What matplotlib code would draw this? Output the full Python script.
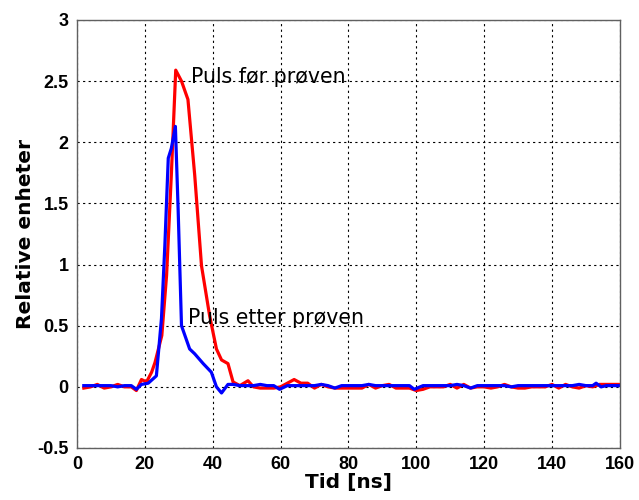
import matplotlib
matplotlib.use('Agg')
import matplotlib.pyplot as plt

# Pulse before the sample (red)
t_red = [2, 4, 6, 8, 10, 12, 14, 16, 17.5, 19, 20.5, 22, 23, 25, 26.4, 27.8, 29.1, 30.8,
         32.7, 34.7, 36.7, 39.1, 41.1, 42.6, 44.5, 46, 48, 50.4, 52, 54, 56, 58, 60, 62,
         64, 66, 68, 70, 72, 74, 76, 78, 80, 82, 84, 86, 88, 90, 92, 94, 96, 98, 100,
         102, 104, 106, 108, 110, 112, 114, 116, 118, 120, 122, 124, 126, 128, 130, 132,
         134, 136, 138, 140, 142, 144, 146, 148, 150, 152, 154, 156, 158, 160]
v_red = [-0.01, 0.0, 0.02, -0.01, 0.0, 0.02, 0.0, 0.0, -0.03, 0.06, 0.04, 0.12, 0.2, 0.42,
         0.91, 1.73, 2.59, 2.5, 2.35, 1.73, 0.99, 0.58, 0.31, 0.22, 0.19, 0.04, 0.01, 0.05,
         0.0, -0.01, -0.01, -0.01, 0.0, 0.03, 0.06, 0.03, 0.03, -0.01, 0.02, 0.0, -0.01,
         -0.01, -0.01, -0.01, -0.01, 0.02, -0.01, 0.01, 0.02, -0.01, -0.01, -0.01, -0.03,
         -0.02, 0.0, 0.0, 0.0, 0.02, -0.01, 0.02, -0.01, 0.0, 0.0, -0.01, 0.0, 0.02, 0.0,
         -0.01, -0.01, 0.0, 0.0, 0.0, 0.02, -0.01, 0.02, 0.0, -0.01, 0.01, 0.0, 0.02, 0.02,
         0.02, 0.02]

# Pulse after the sample (blue)
t_blue = [2, 4, 6, 8, 10, 12, 14, 16, 17.5, 19, 21, 23.4, 24.9, 25.9, 26.9, 27.8, 29.0,
          29.8, 30.8, 33.2, 34.7, 37.2, 39.6, 41.1, 42.6, 44.5, 46, 48, 50, 52, 54, 56,
          58, 59.7, 62, 64, 66, 68, 70, 72, 74, 76, 78, 80, 82, 84, 86, 88, 90, 92, 94,
          96, 98, 99.4, 102, 104, 106, 108, 110, 112, 114, 116, 118, 120, 122, 124, 126,
          128, 130, 132, 134, 136, 138, 140, 142, 144, 146, 148, 150, 152, 153, 154.5,
          156, 158, 160]
v_blue = [0.01, 0.01, 0.01, 0.01, 0.01, 0.0, 0.01, 0.01, -0.02, 0.02, 0.03, 0.09, 0.56,
          1.16, 1.87, 1.95, 2.13, 1.46, 0.5, 0.31, 0.27, 0.19, 0.12, 0.0, -0.05, 0.02,
          0.02, 0.01, 0.01, 0.01, 0.02, 0.01, 0.01, -0.02, 0.01, 0.01, 0.01, 0.01, 0.01,
          0.02, 0.01, -0.01, 0.01, 0.01, 0.01, 0.01, 0.02, 0.01, 0.01, 0.01, 0.01, 0.01,
          0.01, -0.02, 0.01, 0.01, 0.01, 0.01, 0.01, 0.02, 0.01, -0.01, 0.01, 0.01, 0.01,
          0.01, 0.01, 0.0, 0.01, 0.01, 0.01, 0.01, 0.01, 0.01, 0.01, 0.01, 0.01, 0.02,
          0.01, 0.01, 0.03, 0.0, 0.01, 0.01, 0.01]

xticks = [0, 20, 40, 60, 80, 100, 120, 140, 160]
yticks = [-0.5, 0, 0.5, 1, 1.5, 2, 2.5, 3]
ytick_labels = ['-0.5', '0', '0.5', '1', '1.5', '2', '2.5', '3']

plt.rcParams['font.family'] = ['Liberation Sans', 'DejaVu Sans']

fig = plt.figure(figsize=(6.39, 5.0), dpi=100)
ax = fig.add_axes([0.1205, 0.104, 0.8495, 0.856])

ax.plot(t_red, v_red, color='#ff0000', linewidth=2.3)
ax.plot(t_blue, v_blue, color='#0000ff', linewidth=2.3)

# curve labels
ax.text(33.6, 2.53, 'Puls før prøven', fontsize=14.8, family='DejaVu Sans',
        va='center', ha='left')
ax.text(32.6, 0.56, 'Puls etter prøven', fontsize=14.8, family='DejaVu Sans',
        va='center', ha='left')

ax.set_xlim(0, 160)
ax.set_ylim(-0.5, 3)
ax.set_xticks(xticks)
ax.set_yticks(yticks)
ax.set_yticklabels(ytick_labels)
ax.grid(True, color='black', linestyle=(0, (2, 3)), linewidth=0.8)
ax.tick_params(direction='in', length=0, labelsize=13, pad=6)
for lab in ax.get_xticklabels() + ax.get_yticklabels():
    lab.set_fontweight('bold')
for sp in ax.spines.values():
    sp.set_color('#606060')
    sp.set_linewidth(1.0)

ax.set_xlabel('Tid [ns]', fontsize=14.5, fontweight='bold', family='DejaVu Sans', labelpad=0)
ax.set_ylabel('Relative enheter', fontsize=14.5, fontweight='bold', family='DejaVu Sans',
              labelpad=2)

fig.savefig('out.png', dpi=100, facecolor='white')
